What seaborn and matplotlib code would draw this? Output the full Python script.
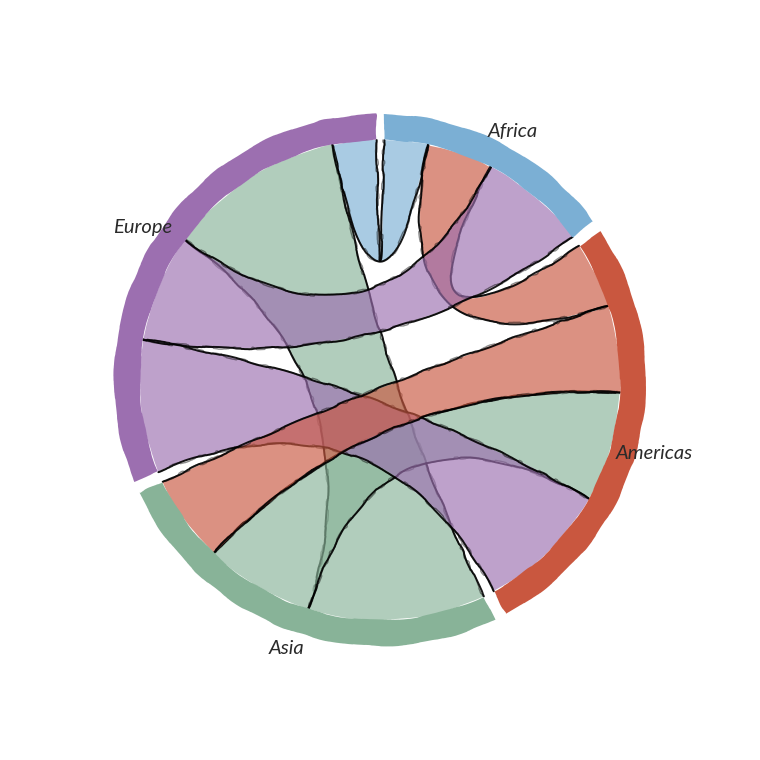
import numpy as np
import seaborn as sns
import matplotlib.pyplot as plt

sectors = ['Africa', 'Americas', 'Asia', 'Europe']
sector_colors = ['#7BAFD4', '#C9573F', '#88B398', '#9C6FB0']
label_angle = [28.0, 104.7, 199.4, 302.9]

# flows, coloured by the source region
flow_from = [0, 1, 3, 1, 2, 3, 2]
flow_to = [3, 0, 0, 2, 1, 1, 3]
flow_value = [10.6, 15.9, 26.0, 21.0, 26.6, 32.1, 42.9]

# order of the flows along each sector, clockwise
sector_order = [[0, 1, 2], [1, 3, 4, 5], [6, 4, 3], [5, 2, 6, 0]]
# later ribbons cover the outlines of earlier ones
draw_order = [0, 1, 6, 4, 5, 2, 3]

gap = 2.7
start_angle = 0.9
r_in = 240
r_out = 266
label_r = 283


def polar(angle, r):
    a = np.radians(angle)
    return r * np.sin(a), r * np.cos(a)


def bezier(a0, a1, r):
    # quadratic curve with its control point in the centre
    t = np.linspace(0, 1, 60)
    x0, y0 = polar(a0, r)
    x1, y1 = polar(a1, r)
    return (1 - t) ** 2 * x0 + t ** 2 * x1, (1 - t) ** 2 * y0 + t ** 2 * y1


def arc(a0, a1, r):
    angles = np.linspace(a0, a1, 60)
    return polar(angles, r)


sns.set_theme(style='white')
fig, ax = plt.subplots(figsize=(7.6, 7.6), dpi=100)
fig.subplots_adjust(0, 0, 1, 1)
ax.set_xlim(-380, 380)
ax.set_ylim(-380, 380)
ax.set_aspect('equal')
ax.axis('off')

# work out the angle span of every sector and flow end
sector_span = []
slots = {}
angle = start_angle
for s, order in enumerate(sector_order):
    begin = angle
    for f in order:
        slots[(f, s)] = (angle, angle + flow_value[f])
        angle += flow_value[f]
    sector_span.append((begin, angle))
    angle += gap

# ribbons
for z, f in enumerate(draw_order):
    a0, a1 = slots[(f, flow_from[f])]
    t0, t1 = slots[(f, flow_to[f])]
    x1, y1 = bezier(a1, t0, r_in)
    x2, y2 = arc(t0, t1, r_in)
    x3, y3 = bezier(t1, a0, r_in)
    x4, y4 = arc(a0, a1, r_in)
    xs = np.concatenate([x4, x1, x2, x3])
    ys = np.concatenate([y4, y1, y2, y3])
    poly = ax.fill(xs, ys, color=sector_colors[flow_from[f]], alpha=0.65, lw=0,
                   zorder=z + 1)[0]
    poly.set_sketch_params(0.5, 140, 8)

    # sketchy outline, stroked twice
    for p, q in [(a1, t0), (t1, a0)]:
        x, y = bezier(p, q, r_in)
        sns.lineplot(x=x, y=y, ax=ax, color='black', lw=1.4, alpha=0.9,
                     sort=False, estimator=None, legend=False, zorder=z + 1.5)
        ax.lines[-1].set_sketch_params(0.8, 110, 10)
        sns.lineplot(x=x, y=y, ax=ax, color='black', lw=1.0, alpha=0.45,
                     sort=False, estimator=None, legend=False, zorder=z + 1.5)
        ax.lines[-1].set_sketch_params(1.3, 70, 20)

# outer ring and labels
for s, name in enumerate(sectors):
    b, e = sector_span[s]
    xo, yo = arc(b, e, r_out)
    xi, yi = arc(e, b, r_in)
    ring = ax.fill(np.concatenate([xo, xi]), np.concatenate([yo, yi]),
                   color=sector_colors[s], lw=0, zorder=20)[0]
    ring.set_sketch_params(0.7, 110, 8)
    lx, ly = polar(label_angle[s], label_r)
    ax.text(lx, ly, name, ha='center', va='center_baseline', fontsize=14.5, zorder=21,
            family='Lato', style='italic', color='#2a2a2a')

fig.savefig('out.png', dpi=100)
